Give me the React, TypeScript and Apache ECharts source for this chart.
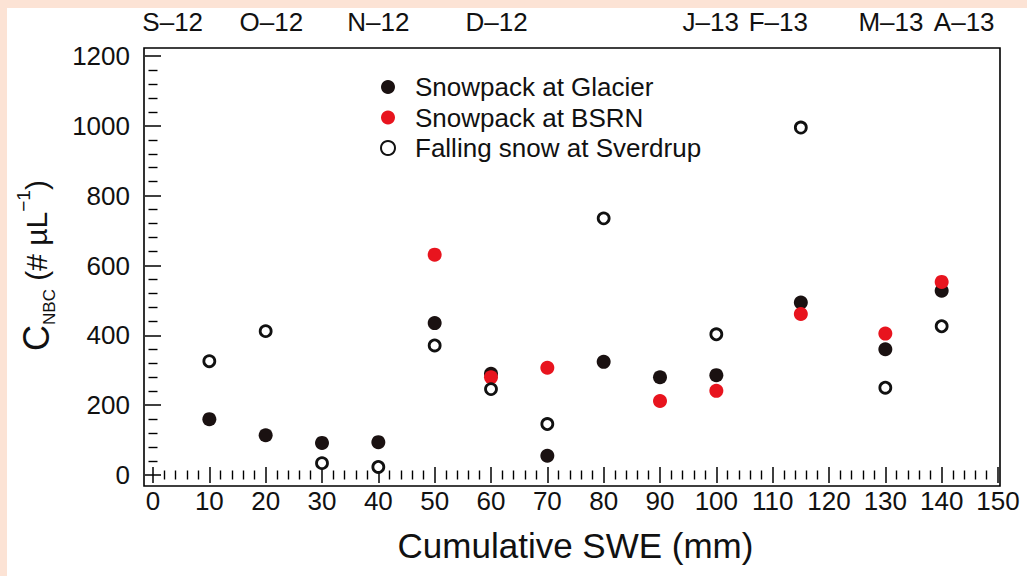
import React, { useEffect, useRef } from "react";
import * as echarts from "echarts";

// Cumulative SWE (mm) of each sampling
const swe = [10, 20, 30, 40, 50, 60, 70, 80, 90, 100, 115, 130, 140];
// C_NBC (# µL^-1)
const glacier = [160, 114, 92, 94, 435, 290, 55, 324, 280, 286, 494, 360, 528];
const bsrn = [null, null, null, null, 631, 280, 307, null, 212, 241, 461, 405, 553];
const sverdrup = [326, 412, 34, 23, 371, 246, 146, 735, null, 403, 995, 250, 426];

// month markers on the top axis (position in cumulative SWE)
const monthPos = [3.5, 21, 40, 61, 99, 111, 131, 144];
const monthLabels = ["S–12", "O–12", "N–12", "D–12", "J–13", "F–13", "M–13", "A–13"];

const seriesNames = ["Snowpack at Glacier", "Snowpack at BSRN", "Falling snow at Sverdrup"];

const pairs = (ys: (number | null)[]) =>
  swe.map((x, i) => (ys[i] == null ? null : [x, ys[i]])).filter((p) => p !== null);

const FONT = "Liberation Sans, Arial, Helvetica, sans-serif";
const INK = "#111";

export default function App() {
  const ref = useRef<HTMLDivElement>(null);

  useEffect(() => {
    if (!ref.current) return;
    const chart = echarts.init(ref.current, undefined, { renderer: "svg" });

    const tickCommon = {
      axisLine: { show: false },
      axisTick: { show: true, inside: true, length: 8, lineStyle: { color: "#000", width: 1.5 } },
      minorTick: { show: true, splitNumber: 5, length: 4.5, lineStyle: { color: "#000", width: 1.4 } },
      splitLine: { show: false },
      minorSplitLine: { show: false },
    };

    chart.setOption({
      animation: false,
      backgroundColor: "transparent",
      textStyle: { fontFamily: FONT, color: INK },
      grid: { left: 153, right: 29, top: 56, bottom: 101, containLabel: false },
      graphic: [
        {
          type: "rect",
          shape: { x: 144, y: 48, width: 856, height: 438 },
          style: { fill: "none", stroke: "#000", lineWidth: 1.6 },
          silent: true,
        },
      ],
      legend: {
        orient: "vertical",
        left: 375,
        top: 69,
        itemWidth: 44,
        itemHeight: 14,
        itemGap: 4.5,
        symbolKeepAspect: true,
        data: seriesNames,
        textStyle: { fontFamily: FONT, fontSize: 26, color: INK },
      },
      xAxis: [
        {
          type: "value",
          position: "bottom",
          offset: 11,
          min: 0,
          max: 150,
          interval: 10,
          ...tickCommon,
          axisLabel: { fontFamily: FONT, fontSize: 26, color: INK, margin: 2 },
          name: "Cumulative SWE (mm)",
          nameLocation: "middle",
          nameGap: 42,
          nameTextStyle: { fontFamily: FONT, fontSize: 35, color: INK },
        },
        {
          type: "value",
          position: "top",
          offset: 8,
          min: 0,
          max: 150,
          interval: 10,
          ...tickCommon,
          axisLabel: {
            show: true,
            customValues: monthPos,
            formatter: (v: number) => {
              const i = monthPos.indexOf(v);
              return i >= 0 ? monthLabels[i] : "";
            },
            fontFamily: FONT,
            fontSize: 26,
            color: INK,
            margin: 13,
          },
        },
      ],
      yAxis: [
        {
          type: "value",
          position: "left",
          offset: 9,
          min: 0,
          max: 1200,
          interval: 200,
          ...tickCommon,
          axisLabel: {
            fontFamily: FONT,
            fontSize: 26,
            color: INK,
            margin: 14,
            formatter: (v: number) => String(v),
          },
          name: "{c|C}{sub|NBC}{n| (# µL}{sup|−1}{n|)}",
          nameLocation: "middle",
          nameRotate: 90,
          nameGap: 86,
          nameTextStyle: {
            fontFamily: FONT,
            color: INK,
            rich: {
              c: { fontSize: 36, fontFamily: FONT, color: INK, lineHeight: 38, verticalAlign: "middle" },
              sub: { fontSize: 17, fontFamily: FONT, color: INK, lineHeight: 32, verticalAlign: "bottom" },
              n: { fontSize: 30, fontFamily: FONT, color: INK, lineHeight: 38, verticalAlign: "middle" },
              sup: { fontSize: 19, fontFamily: FONT, color: INK, lineHeight: 44, verticalAlign: "top" },
            },
          },
        },
        {
          type: "value",
          position: "right",
          offset: 2,
          min: 0,
          max: 1200,
          interval: 200,
          ...tickCommon,
          axisLabel: { show: false },
        },
      ],
      series: [
        {
          name: seriesNames[0],
          type: "scatter",
          data: pairs(glacier),
          symbol: "circle",
          symbolSize: 14,
          itemStyle: { color: "#1a1111", opacity: 1 },
        },
        {
          name: seriesNames[1],
          type: "scatter",
          data: pairs(bsrn),
          symbol: "circle",
          symbolSize: 14,
          itemStyle: { color: "#e8141e", opacity: 1 },
        },
        {
          name: seriesNames[2],
          type: "scatter",
          data: pairs(sverdrup),
          symbol: "circle",
          symbolSize: 11,
          itemStyle: { color: "#ffffff", borderColor: "#111", borderWidth: 2.8, opacity: 1 },
        },
      ],
    });

    return () => chart.dispose();
  }, []);

  return (
    <div
      style={{
        position: "fixed",
        left: 0,
        top: 0,
        width: 1027,
        height: 576,
        background: "#fce3d5",
        overflow: "hidden",
      }}
    >
      <div
        style={{
          position: "absolute",
          left: 7,
          top: 8,
          right: 0,
          bottom: 0,
          background: "#ffffff",
        }}
      />
      <div ref={ref} style={{ position: "absolute", left: 0, top: 0, width: 1027, height: 576 }} />
    </div>
  );
}
